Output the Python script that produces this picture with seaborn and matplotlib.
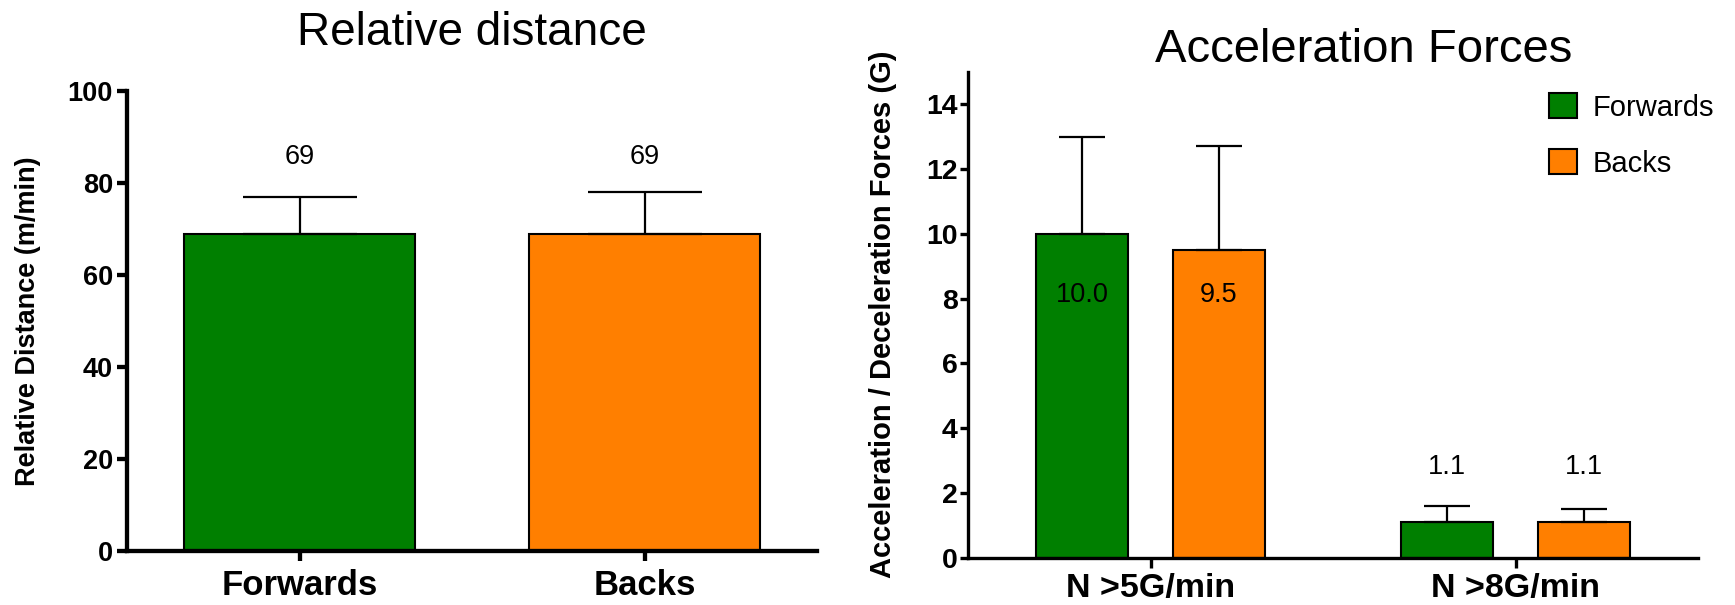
import matplotlib
matplotlib.use("Agg")
import matplotlib.pyplot as plt
from matplotlib.patches import Patch
import numpy as np
import pandas as pd
import seaborn as sns

# Relative distance per playing position (mean and SD, m/min)
positions = ["Forwards", "Backs"]
distance_mean = [69, 69]
distance_sd = [8, 9]

# Acceleration / deceleration efforts per minute (mean and SD)
force_categories = ["N >5G/min", "N >8G/min"]
forwards_force = [10.0, 1.1]
forwards_force_sd = [3.0, 0.5]
backs_force = [9.5, 1.1]
backs_force_sd = [3.2, 0.4]

colors = {"Forwards": "#007F00", "Backs": "#FF7F00"}

sns.set_theme(style="ticks")
plt.rcParams["font.family"] = ["Liberation Sans", "DejaVu Sans"]
plt.rcParams.update({
    "text.color": "black",
    "axes.labelcolor": "black",
    "axes.edgecolor": "black",
    "xtick.color": "black",
    "ytick.color": "black",
})

W, H = 1735, 605
fig = plt.figure(figsize=(W / 100, H / 100), dpi=100)
fig.patch.set_facecolor("white")


def px_axes(x0, y0, x1, y1):
    return fig.add_axes([x0 / W, 1 - y1 / H, (x1 - x0) / W, (y1 - y0) / H])


ax1 = px_axes(127, 91, 817, 551)
ax2 = px_axes(968, 72, 1698, 557.5)

# ---- left panel: relative distance ----
dist_df = pd.DataFrame({"position": positions, "distance": distance_mean})
sns.barplot(data=dist_df, x="position", y="distance", hue="position",
            hue_order=positions, palette=colors, width=0.667, saturation=1,
            edgecolor="black", linewidth=1.5, errorbar=None, legend=False,
            ax=ax1)

bars1 = [p for c in ax1.containers for p in c]
xs1 = [p.get_x() + p.get_width() / 2 for p in bars1]
hs1 = [p.get_height() for p in bars1]
ax1.errorbar(xs1, hs1, yerr=[np.zeros(len(hs1)), distance_sd], fmt="none",
             ecolor="black", elinewidth=1.6, capsize=41, capthick=1.6,
             zorder=3)
for x, v in zip(xs1, distance_mean):
    ax1.text(x, 85.6, f"{v:.0f}", ha="center", va="center", fontsize=19.5)

ax1.set_xlim(-0.5, 1.5)
ax1.set_ylim(0, 100)
ax1.set_yticks(np.arange(0, 101, 20))
ax1.set_xlabel("")
ax1.set_ylabel("Relative Distance (m/min)", fontsize=19.5,
               fontweight="bold", labelpad=19)
ax1.set_title("Relative distance", fontsize=33, pad=33)
for s in ("top", "right"):
    ax1.spines[s].set_visible(False)
for s in ("left", "bottom"):
    ax1.spines[s].set_linewidth(3.1)
ax1.tick_params(axis="y", direction="out", length=7, width=3.1, pad=3,
                labelsize=19.5)
ax1.tick_params(axis="x", direction="out", length=7, width=3.1, pad=6,
                labelsize=25)
for lab in ax1.get_xticklabels() + ax1.get_yticklabels():
    lab.set_fontweight("bold")

# ---- right panel: acceleration forces ----
force_df = pd.DataFrame({
    "category": force_categories * 2,
    "position": ["Forwards"] * 2 + ["Backs"] * 2,
    "value": forwards_force + backs_force,
})
sns.barplot(data=force_df, x="category", y="value", hue="position",
            order=force_categories, hue_order=positions, palette=colors,
            width=0.75, gap=0.333, saturation=1, edgecolor="black",
            linewidth=1.5, errorbar=None, legend=False, ax=ax2)

sds = {"Forwards": forwards_force_sd, "Backs": backs_force_sd}
values = {"Forwards": forwards_force, "Backs": backs_force}
label_y = [8.1, 2.8]
for pos, cont in zip(positions, ax2.containers):
    xs = [p.get_x() + p.get_width() / 2 for p in cont]
    hs = [p.get_height() for p in cont]
    ax2.errorbar(xs, hs, yerr=[np.zeros(len(hs)), sds[pos]], fmt="none",
                 ecolor="black", elinewidth=1.6, capsize=16.4, capthick=1.6,
                 zorder=3)
    for x, v, ly in zip(xs, values[pos], label_y):
        ax2.text(x, ly, f"{v:.1f}", ha="center", va="center", fontsize=19.5)

ax2.set_xlim(-0.5, 1.5)
ax2.set_ylim(0, 15)
ax2.set_yticks(np.arange(0, 15, 2))
ax2.set_xlabel("")
ax2.set_ylabel("Acceleration / Deceleration Forces (G)", fontsize=21,
               fontweight="bold", labelpad=21)
ax2.set_title("Acceleration Forces", fontsize=34, pad=1, x=0.5425)
for s in ("top", "right"):
    ax2.spines[s].set_visible(False)
for s in ("left", "bottom"):
    ax2.spines[s].set_linewidth(2.4)
ax2.tick_params(axis="y", direction="out", length=5.5, width=2.4, pad=2,
                labelsize=20.5)
ax2.tick_params(axis="x", direction="out", length=7, width=2.4, pad=4,
                labelsize=24.5)
for lab in ax2.get_xticklabels() + ax2.get_yticklabels():
    lab.set_fontweight("bold")

handles = [Patch(facecolor=colors[p], edgecolor="black", linewidth=1.5,
                 label=p) for p in positions]
ax2.legend(handles=handles, loc="upper left",
           bbox_to_anchor=(1549 / W, 1 - 93 / H),
           bbox_transform=fig.transFigure, frameon=False, fontsize=21,
           handlelength=0.95, handleheight=0.95, handletextpad=0.55,
           labelspacing=0.95, borderpad=0, borderaxespad=0)

fig.savefig("out.png", dpi=100, facecolor="white")
